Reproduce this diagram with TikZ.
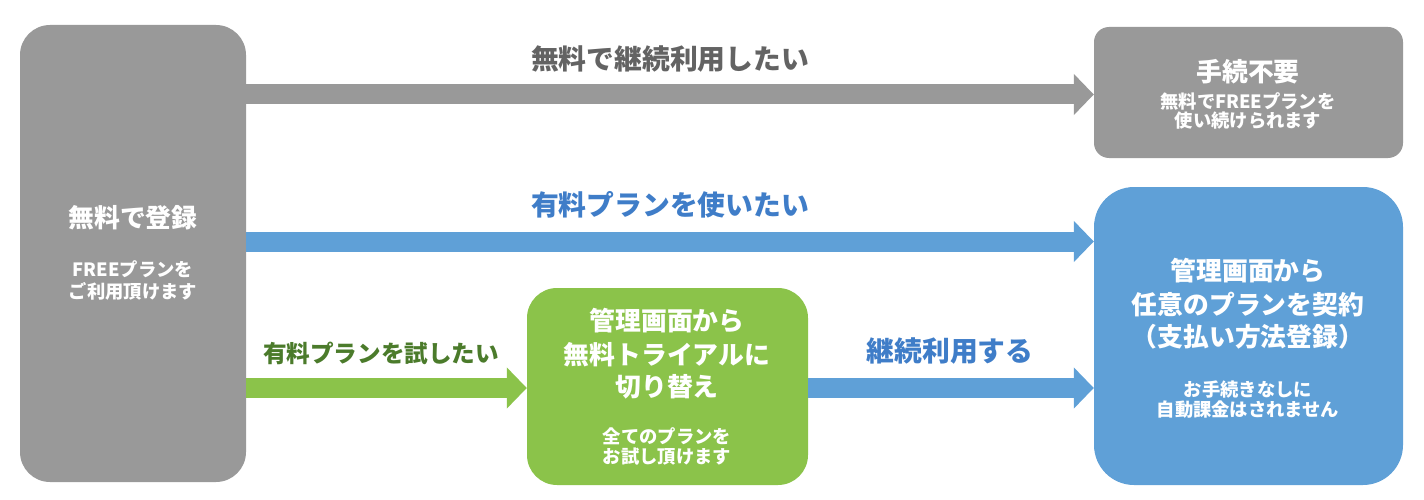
\documentclass[tikz,border=0pt]{standalone}
\usepackage{fontspec}
\setmainfont{Noto Sans CJK JP}
\usetikzlibrary{arrows.meta}
\definecolor{boxgray}{HTML}{999999}
\definecolor{boxblue}{HTML}{5FA0D7}
\definecolor{boxgreen}{HTML}{8BC34A}
\definecolor{labgray}{HTML}{636363}
\definecolor{labblue}{HTML}{3F7DC8}
\definecolor{labgreen}{HTML}{4B7B2B}
\begin{document}
\begin{tikzpicture}[x=1pt,y=-1pt,
  box/.style={draw=none, rounded corners=#1, inner sep=0pt},
  bigtxt/.style={text=white, font=\bfseries\fontsize{25.8}{25.8}\selectfont, inner sep=0pt},
  smalltxt/.style={text=white, font=\bfseries\fontsize{18.3}{18.3}\selectfont, inner sep=0pt},
  lab/.style={font=\bfseries\fontsize{27.8}{27.8}\selectfont, inner sep=0pt},
  flow/.style={line width=20pt, -{Triangle[width=40pt,length=20pt]}}
]
\useasboundingbox (0,0) rectangle (1424,500);

% boxes
\node[box=30pt, fill=boxgray, minimum width=226pt, minimum height=457pt] (reg) at (133,253.5) {};
\node[box=15pt, fill=boxgray, minimum width=309pt, minimum height=131pt] (free) at (1248.5,92.5) {};
\node[box=40pt, fill=boxblue, minimum width=309pt, minimum height=298pt] (paid) at (1248.5,336) {};
\node[box=30pt, fill=boxgreen, minimum width=281pt, minimum height=197pt] (trial) at (667.5,386.5) {};

% box texts
\node[bigtxt] (reg1) at (133,218) {無料で登録};
\node[smalltxt] (reg2) at (133,269) {FREEプランを};
\node[smalltxt] (reg3) at (133,291) {ご利用頂けます};

\node[bigtxt] (free1) at (1248,72) {手続不要};
\node[smalltxt] (free2) at (1248,101) {無料でFREEプランを};
\node[smalltxt] (free3) at (1248,121) {使い続けられます};

\node[bigtxt] (paid1) at (1248,271) {管理画面から};
\node[bigtxt] (paid2) at (1248,305) {任意のプランを契約};
\node[bigtxt] (paid3) at (1248,337) {（支払い方法登録）};
\node[smalltxt] (paid4) at (1248,390) {お手続きなしに};
\node[smalltxt] (paid5) at (1248,410) {自動課金はされません};

\node[bigtxt] (trial1) at (667,321) {管理画面から};
\node[bigtxt] (trial2) at (667,355) {無料トライアルに};
\node[bigtxt] (trial3) at (667,387) {切り替え};
\node[smalltxt] (trial4) at (667,436) {全てのプランを};
\node[smalltxt] (trial5) at (667,457) {お試し頂けます};

% row coordinates
\coordinate (rowA) at (0,94.5);
\coordinate (rowB) at (0,241.5);
\coordinate (rowC) at (0,388);

% connectors
\draw[flow, boxgray] (reg.east |- rowA) -- (free.west |- rowA);
\draw[flow, boxblue] (reg.east |- rowB) -- (paid.west |- rowB);
\draw[flow, boxgreen] (reg.east |- rowC) -- (trial.west |- rowC);
\draw[flow, boxblue] (trial.east |- rowC) -- (paid.west |- rowC);

% labels
\node[lab, text=labgray] (labA) at (670,59) {無料で継続利用したい};
\node[lab, text=labblue] (labB) at (670,205) {有料プランを使いたい};
\node[lab, text=labgreen, font=\bfseries\fontsize{23.6}{23.6}\selectfont] (labC) at (381,353) {有料プランを試したい};
\node[lab, text=labblue] (labD) at (950,351) {継続利用する};
\end{tikzpicture}
\end{document}
